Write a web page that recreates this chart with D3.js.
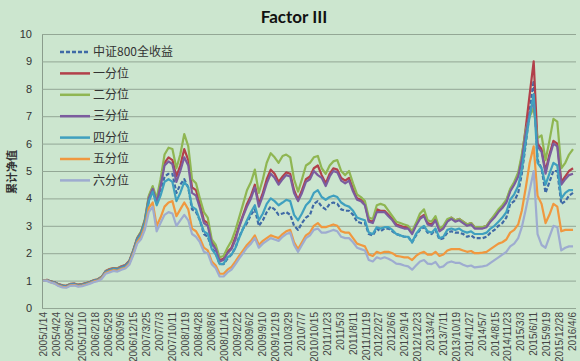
<!DOCTYPE html>
<html>
<head>
<meta charset="utf-8">
<script src="https://cdn.jsdelivr.net/npm/d3@7"></script>
<style>
  html, body { margin: 0; padding: 0; background: #cce6cf; }
  svg { display: block; }
</style>
</head>
<body>
<svg id="chart" width="580" height="361"></svg>
<script>
// monthly observations, 2005/1 .. 2016/4 (one row per year)
const csi800 = [
  1.00,1.02,0.96,0.93,0.86,0.82,0.80,0.87,0.88,0.84,0.86,0.90,
  0.95,1.00,1.03,1.12,1.32,1.38,1.42,1.40,1.48,1.52,1.68,2.05,
  2.50,2.70,3.10,3.90,4.30,3.80,4.20,4.80,4.90,4.90,4.20,4.50,
  4.70,4.40,3.60,3.50,3.20,2.70,2.60,2.20,2.00,1.60,1.60,1.80,
  1.95,2.20,2.60,2.90,3.10,3.40,3.60,3.00,3.20,3.50,3.70,3.60,
  3.40,3.45,3.50,3.40,3.00,2.85,3.10,3.30,3.40,3.80,3.90,3.70,
  3.60,3.80,3.85,3.80,3.60,3.55,3.55,3.40,3.15,3.10,3.10,2.70,
  2.65,2.90,2.80,2.90,2.90,2.80,2.70,2.65,2.60,2.60,2.40,2.65,
  2.85,2.95,2.75,2.70,2.85,2.50,2.55,2.75,2.80,2.75,2.75,2.70,
  2.60,2.65,2.55,2.55,2.55,2.60,2.75,2.85,3.00,3.10,3.30,3.80,
  3.90,4.20,4.90,6.00,7.20,8.30,5.40,5.10,4.20,4.60,5.00,5.00,
  3.80,3.90,4.10,4.20
];
const q1 = [
  1.00,1.03,0.97,0.94,0.87,0.83,0.81,0.88,0.89,0.85,0.87,0.91,
  0.96,1.02,1.05,1.14,1.35,1.42,1.46,1.45,1.52,1.57,1.72,2.10,
  2.55,2.78,3.20,4.05,4.40,3.90,4.50,5.30,5.50,5.40,4.80,5.20,
  5.80,5.40,4.40,4.30,3.80,3.20,3.10,2.40,2.20,1.75,1.80,2.05,
  2.20,2.60,3.00,3.40,3.80,4.10,4.50,3.80,4.20,4.70,5.05,4.90,
  4.60,4.80,4.95,4.90,4.30,3.95,4.30,4.70,4.80,5.10,5.20,4.85,
  4.55,4.90,5.10,5.05,4.75,4.65,4.75,4.35,4.00,3.95,3.80,3.20,
  3.15,3.60,3.55,3.55,3.40,3.25,3.05,3.00,2.95,2.95,2.75,3.05,
  3.30,3.40,3.10,3.05,3.25,2.85,2.95,3.20,3.30,3.20,3.25,3.15,
  3.05,3.10,2.95,2.95,2.95,3.00,3.20,3.35,3.55,3.70,3.90,4.30,
  4.55,4.85,5.50,6.60,7.80,9.00,6.00,5.80,5.00,5.60,6.10,6.00,
  4.60,4.80,5.00,5.10
];
const q2 = [
  1.00,1.02,0.97,0.93,0.86,0.82,0.80,0.87,0.88,0.84,0.86,0.90,
  0.95,1.01,1.04,1.13,1.34,1.40,1.45,1.44,1.51,1.56,1.70,2.08,
  2.55,2.80,3.22,4.10,4.45,4.00,4.70,5.60,5.85,5.80,5.10,5.60,
  6.35,5.90,4.70,4.55,4.00,3.50,3.30,2.50,2.30,1.85,1.90,2.20,
  2.45,2.85,3.30,3.80,4.30,4.60,5.05,4.20,4.70,5.30,5.65,5.50,
  5.30,5.55,5.60,5.50,4.70,4.25,4.70,5.20,5.30,5.50,5.55,5.10,
  4.90,5.20,5.35,5.40,5.00,4.85,5.00,4.55,4.15,4.05,3.90,3.30,
  3.25,3.75,3.80,3.75,3.55,3.35,3.15,3.10,3.05,3.00,2.80,3.10,
  3.45,3.60,3.20,3.15,3.35,2.90,3.00,3.25,3.30,3.20,3.25,3.15,
  3.05,3.10,2.95,2.95,2.95,3.00,3.20,3.40,3.60,3.75,3.95,4.35,
  4.60,4.95,5.60,6.50,7.00,7.30,6.20,6.30,5.40,6.10,6.90,6.80,
  5.10,5.30,5.60,5.80
];
const q3 = [
  1.00,1.02,0.96,0.93,0.85,0.81,0.79,0.86,0.87,0.83,0.85,0.89,
  0.94,1.00,1.03,1.12,1.33,1.39,1.44,1.42,1.50,1.55,1.69,2.06,
  2.52,2.75,3.15,4.00,4.35,3.85,4.45,5.20,5.35,5.25,4.60,5.00,
  5.50,5.20,4.20,4.10,3.65,3.10,3.00,2.35,2.15,1.70,1.75,2.00,
  2.15,2.50,2.95,3.35,3.70,4.00,4.40,3.70,4.10,4.55,4.90,4.75,
  4.50,4.70,4.85,4.80,4.20,3.90,4.20,4.60,4.70,5.00,4.85,4.75,
  4.45,4.80,5.00,4.95,4.65,4.55,4.65,4.25,3.95,3.90,3.75,3.15,
  3.10,3.50,3.50,3.50,3.35,3.20,3.00,2.95,2.90,2.90,2.70,3.00,
  3.25,3.35,3.05,3.00,3.20,2.80,2.90,3.15,3.25,3.15,3.20,3.10,
  3.00,3.05,2.90,2.90,2.90,2.95,3.15,3.30,3.50,3.65,3.85,4.25,
  4.50,4.80,5.40,6.40,7.10,7.60,5.90,5.70,4.90,5.50,6.00,5.90,
  4.50,4.70,4.85,4.90
];
const q4 = [
  1.00,1.01,0.95,0.92,0.84,0.80,0.78,0.85,0.86,0.82,0.84,0.88,
  0.93,0.99,1.02,1.11,1.31,1.37,1.42,1.40,1.47,1.52,1.67,2.03,
  2.48,2.70,3.10,3.90,4.25,3.75,4.10,4.60,4.70,4.60,3.90,4.20,
  4.60,4.40,3.70,3.60,3.20,2.80,2.70,2.15,1.95,1.60,1.62,1.85,
  1.95,2.20,2.55,2.90,3.20,3.50,3.75,3.20,3.45,3.80,4.00,3.90,
  3.75,3.85,3.95,3.90,3.40,3.20,3.45,3.75,3.90,4.20,4.30,4.05,
  3.95,4.05,4.10,4.05,3.85,3.75,3.70,3.55,3.30,3.25,3.20,2.75,
  2.70,2.95,2.90,2.95,2.95,2.85,2.70,2.65,2.60,2.60,2.40,2.70,
  2.90,3.00,2.80,2.75,2.90,2.55,2.60,2.85,2.90,2.85,2.90,2.80,
  2.75,2.80,2.70,2.70,2.70,2.75,2.90,3.00,3.15,3.30,3.50,3.95,
  4.15,4.45,5.05,6.10,7.00,7.80,5.30,5.10,4.50,4.90,5.30,5.20,
  4.00,4.20,4.30,4.30
];
const q5 = [
  1.00,1.00,0.94,0.90,0.82,0.77,0.76,0.83,0.84,0.80,0.82,0.86,
  0.91,0.97,1.00,1.09,1.28,1.34,1.38,1.36,1.43,1.47,1.62,1.97,
  2.40,2.60,2.95,3.65,3.85,3.00,3.30,3.70,3.85,3.90,3.35,3.60,
  3.85,3.60,2.90,2.80,2.55,2.20,2.10,1.70,1.55,1.25,1.25,1.40,
  1.50,1.70,1.90,2.10,2.30,2.45,2.65,2.30,2.45,2.55,2.65,2.60,
  2.55,2.70,2.80,2.85,2.40,2.15,2.40,2.65,2.75,3.00,3.10,2.95,
  2.95,3.00,3.05,3.00,2.80,2.75,2.75,2.55,2.35,2.30,2.25,1.95,
  1.90,2.05,2.00,2.05,2.05,2.00,1.90,1.88,1.85,1.85,1.75,1.90,
  2.00,2.05,1.95,1.95,2.05,1.90,1.95,2.10,2.15,2.15,2.15,2.10,
  2.05,2.08,2.00,2.00,2.02,2.05,2.15,2.25,2.35,2.40,2.50,2.75,
  2.85,3.05,3.55,4.40,5.30,5.90,4.10,3.80,3.10,3.40,3.80,3.70,
  2.80,2.85,2.85,2.85
];
const q6 = [
  1.00,0.99,0.93,0.89,0.80,0.75,0.74,0.81,0.82,0.78,0.80,0.84,
  0.89,0.95,0.98,1.06,1.25,1.30,1.35,1.33,1.40,1.44,1.58,1.92,
  2.35,2.52,2.85,3.50,3.70,2.80,3.10,3.40,3.50,3.45,3.00,3.20,
  3.40,3.20,2.70,2.60,2.40,2.05,2.00,1.60,1.45,1.15,1.15,1.30,
  1.40,1.60,1.80,2.00,2.20,2.35,2.55,2.20,2.35,2.45,2.55,2.50,
  2.45,2.60,2.70,2.75,2.30,2.05,2.30,2.55,2.65,2.85,2.90,2.75,
  2.75,2.80,2.85,2.80,2.60,2.55,2.55,2.40,2.20,2.15,2.10,1.75,
  1.70,1.85,1.80,1.85,1.80,1.72,1.62,1.60,1.55,1.52,1.40,1.55,
  1.70,1.75,1.62,1.60,1.68,1.48,1.52,1.65,1.70,1.65,1.65,1.58,
  1.52,1.55,1.48,1.50,1.52,1.55,1.65,1.75,1.85,1.95,2.05,2.25,
  2.35,2.55,2.95,3.60,4.30,5.00,2.70,2.30,2.20,2.60,3.00,2.95,
  2.10,2.20,2.25,2.25
];

const seriesNames = ['中证800全收益', '一分位', '二分位', '三分位', '四分位', '五分位', '六分位'];
const seriesColors = ['#3f6aa6', '#b2404a', '#8fb652', '#7b5c9e', '#3fa0bf', '#f0983f', '#9eacd0'];
const seriesData = [csi800, q1, q2, q3, q4, q5, q6];
const yTicks = [0, 1, 2, 3, 4, 5, 6, 7, 8, 9, 10];

const svg = d3.select('#chart');
const plotLeft = 42, plotRight = 576, plotTop = 34, plotBottom = 308;

// one point per month, on the 14th
const dates = d3.timeMonth.range(new Date(2005, 0, 1), new Date(2016, 4, 1))
    .map(d => d3.timeDay.offset(d, 13));
const start = new Date(2005, 0, 14);
const tickDates = d3.range(42).map(i => d3.timeDay.offset(start, i * 100));

const x = d3.scaleTime()
    .domain([start, new Date(2016, 4, 7)])
    .range([plotLeft + 1, plotRight]);
const y = d3.scaleLinear().domain([0, 10]).range([plotBottom, plotTop]);

// title
svg.append('text')
    .attr('x', 294).attr('y', 23)
    .attr('text-anchor', 'middle')
    .attr('font-family', 'Lato, "Open Sans", sans-serif')
    .attr('font-weight', 'bold')
    .attr('font-size', 17)
    .attr('fill', '#111')
    .text('Factor III');

// gridlines + y axis
const yAxis = svg.append('g')
    .attr('transform', `translate(${plotLeft},0)`)
    .call(d3.axisLeft(y).tickValues(yTicks).tickSize(-(plotRight - plotLeft)).tickPadding(10).tickFormat(d3.format('d')));
yAxis.select('.domain').attr('stroke', '#8a9c8c');
yAxis.selectAll('.tick line').attr('stroke', '#93a795').attr('stroke-width', 1);
yAxis.selectAll('.tick text')
    .attr('font-family', '"Liberation Sans", Arial, sans-serif')
    .attr('font-size', 11)
    .attr('fill', '#333');

// y axis title
svg.append('text')
    .attr('transform', 'translate(16,172) rotate(-90)')
    .attr('text-anchor', 'middle')
    .attr('font-family', '"Noto Sans CJK SC", sans-serif')
    .attr('font-weight', 'bold')
    .attr('font-size', 11)
    .attr('fill', '#333')
    .text('累计净值');

// x axis
const xAxis = svg.append('g')
    .attr('transform', `translate(0,${plotBottom})`)
    .call(d3.axisBottom(x).tickValues(tickDates).tickSize(0).tickFormat(d3.timeFormat('%Y/%-m/%-d')));
xAxis.select('.domain').remove();
xAxis.selectAll('.tick text')
    .attr('font-family', '"Liberation Sans Narrow", "Liberation Sans", sans-serif')
    .attr('font-size', 10)
    .attr('fill', '#444')
    .attr('text-anchor', 'end')
    .attr('transform', 'rotate(-90)')
    .attr('x', -4)
    .attr('y', 0)
    .attr('dy', '0.35em');

// series lines
const line = d3.line()
    .x((d, i) => x(dates[i]))
    .y(d => y(d));

const g = svg.append('g');
seriesData.forEach((vals, k) => {
    g.append('path')
        .datum(vals)
        .attr('fill', 'none')
        .attr('stroke', seriesColors[k])
        .attr('stroke-width', 2.2)
        .attr('stroke-linejoin', 'round')
        .attr('stroke-dasharray', k === 0 ? '4,2' : null)
        .attr('d', line);
});

// legend
const legend = svg.append('g');
seriesNames.forEach((name, k) => {
    const ly = 52 + k * 21.4;
    legend.append('line')
        .attr('x1', 60).attr('x2', 90)
        .attr('y1', ly).attr('y2', ly)
        .attr('stroke', seriesColors[k])
        .attr('stroke-width', 2.5)
        .attr('stroke-dasharray', k === 0 ? '4,2' : null);
    legend.append('text')
        .attr('x', 93).attr('y', ly)
        .attr('dy', '0.35em')
        .attr('font-family', '"Noto Sans CJK SC", sans-serif')
        .attr('font-size', 12)
        .attr('fill', '#333')
        .text(name);
});
</script>
</body>
</html>
